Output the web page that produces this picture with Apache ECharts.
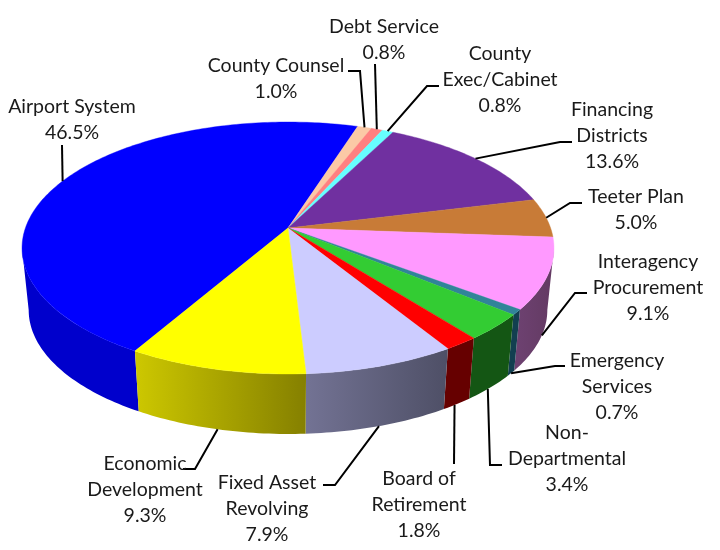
<!DOCTYPE html>
<html>
<head>
<meta charset="utf-8">
<style>
    html, body { margin: 0; padding: 0; background: #fff; }
    #main { width: 720px; height: 550px; }
</style>
<script src="https://cdn.jsdelivr.net/npm/echarts@6/dist/echarts.min.js"></script>
</head>
<body>
<div id="main"></div>
<script>
// data, clockwise from the Airport System slice
const names = ['Airport System', 'County Counsel', 'Debt Service', 'County\nExec/Cabinet', 'Financing\nDistricts', 'Teeter Plan',
    'Interagency\nProcurement', 'Emergency\nServices', 'Non-\nDepartmental', 'Board of\nRetirement', 'Fixed Asset\nRevolving', 'Economic\nDevelopment'];
const values = [46.5, 1.0, 0.8, 0.8, 13.6, 5.0, 9.1, 0.7, 3.4, 1.8, 7.9, 9.3];

// styles
const topColors = ['#0000ff', '#fbc9a6', '#ff8080', '#66ffff', '#7030a0', '#c87b37', '#ff99ff', '#318499', '#33cc33', '#ff0000', '#ccccff', '#ffff00'];
const sideColors = [['#0000cc', '#0000cc'], ['#c9a07f', '#c9a07f'], ['#cc6666', '#cc6666'], ['#52cccc', '#52cccc'], ['#5a2680', '#5a2680'],
    ['#a0622c', '#a0622c'], ['#6e4272', '#633a62'], ['#123f50', '#123f50'], ['#145614', '#145614'], ['#660000', '#660000'],
    ['#737394', '#4e4f66'], ['#cdc800', '#858000']];

// label block centre, leader line points after the rim anchor, which rim the leader starts on,
// and how many degrees the anchor sits from the middle of its slice
const labelPos = [[72, 120], [276, 79], [384, 40], [500, 80], [612, 136], [636, 210], [648, 288], [617, 387], [567, 459], [419, 505], [267, 509], [145, 490]];
const leaderPts = [[[62, 145]], [[360, 71], [348, 71]], [[375, 64]], [[427, 86], [439, 86]], [[560, 142], [572, 142]], [[570, 203], [582, 203]],
    [[575, 293], [587, 293]], [[555, 366], [565, 366]], [[490, 465], [502, 465]], [[454, 464]], [[335, 485], [323, 485]], [[195, 469], [183, 469]]];
const leaderRim = ['top', 'top', 'top', 'top', 'top', 'top', 'bottom', 'bottom', 'bottom', 'bottom', 'bottom', 'bottom'];
const anchorNudge = [0, 0, 0, 0, 0, 0, 0, 0, 0.7, 0.6, 0, 0];

const startDeg = 210.2;
const total = values.reduce((a, b) => a + b, 0);

// the top face is a circle seen in perspective: the apex sits above the centre of the ellipse
const apexX = 288, apexY = 228, k = 0.1587, scaleX = 262.6, scaleY = 122.8;
// the side wall only shows between the two silhouette points of the ellipse
const sideFrom = 99.1, sideTo = 260.9;

function topPoint(deg) {
    const r = deg * Math.PI / 180;
    const x = Math.sin(r), y = -Math.cos(r);
    const w = 1 - k * y;
    return [apexX + scaleX * x / w, apexY + scaleY * y / w];
}
function bottomPoint(deg) {
    const p = topPoint(deg);
    return [apexX + (p[0] - apexX) * 0.975, 310 + (p[1] - 248) * 0.984];
}
function sliceRange(i) {
    let from = startDeg;
    for (let j = 0; j < i; j++) from += values[j] / total * 360;
    return [from, from + values[i] / total * 360];
}
function arc(fn, from, to) {
    const pts = [];
    const n = Math.max(2, Math.ceil(to - from));
    for (let s = 0; s <= n; s++) pts.push(fn(from + (to - from) * s / n));
    return pts;
}

function renderSide(params) {
    const i = params.dataIndex;
    const range = sliceRange(i);
    // angles run past 360, bring them back before clamping
    const shift = range[0] >= 360 ? 360 : 0;
    const from = Math.max(range[0] - shift, sideFrom);
    const to = Math.min(range[1] - shift, sideTo);
    if (to <= from) return null;
    const pts = arc(topPoint, from, to).concat(arc(bottomPoint, from, to).reverse());
    return {
        type: 'polygon',
        shape: { points: pts },
        style: {
            fill: new echarts.graphic.LinearGradient(0, 0, 1, 0, [
                { offset: 0, color: sideColors[i][0] },
                { offset: 1, color: sideColors[i][1] }
            ]),
            stroke: null
        }
    };
}
function renderTop(params) {
    const i = params.dataIndex;
    const range = sliceRange(i);
    const pts = [[apexX, apexY]].concat(arc(topPoint, range[0], range[1]));
    return {
        type: 'polygon',
        shape: { points: pts },
        style: { fill: topColors[i], stroke: topColors[i], lineWidth: 0.4 }
    };
}
function renderLabel(params) {
    const i = params.dataIndex;
    const range = sliceRange(i);
    const mid = (range[0] + range[1]) / 2 + anchorNudge[i];
    const anchor = leaderRim[i] === 'top' ? topPoint(mid) : bottomPoint(mid);
    return {
        type: 'group',
        children: [{
            type: 'polyline',
            shape: { points: [anchor].concat(leaderPts[i]) },
            style: { stroke: '#000', lineWidth: 2, fill: null }
        }, {
            type: 'text',
            style: {
                x: labelPos[i][0],
                y: labelPos[i][1],
                text: names[i] + '\n' + values[i].toFixed(1) + '%',
                fill: '#1a1a1a',
                font: '19.5px Lato',
                lineHeight: 26,
                align: 'center',
                verticalAlign: 'middle'
            }
        }]
    };
}

const rows = values.map(v => [v]);
let myChart = echarts.init(document.getElementById('main'));
let option = {
    animation: false,
    series: [
        { type: 'custom', coordinateSystem: 'none', silent: true, z: 1, data: rows, renderItem: renderSide },
        { type: 'custom', coordinateSystem: 'none', silent: true, z: 2, data: rows, renderItem: renderTop },
        { type: 'custom', coordinateSystem: 'none', silent: true, z: 3, data: rows, renderItem: renderLabel }
    ]
};
option && myChart.setOption(option);
</script>
</body>
</html>
